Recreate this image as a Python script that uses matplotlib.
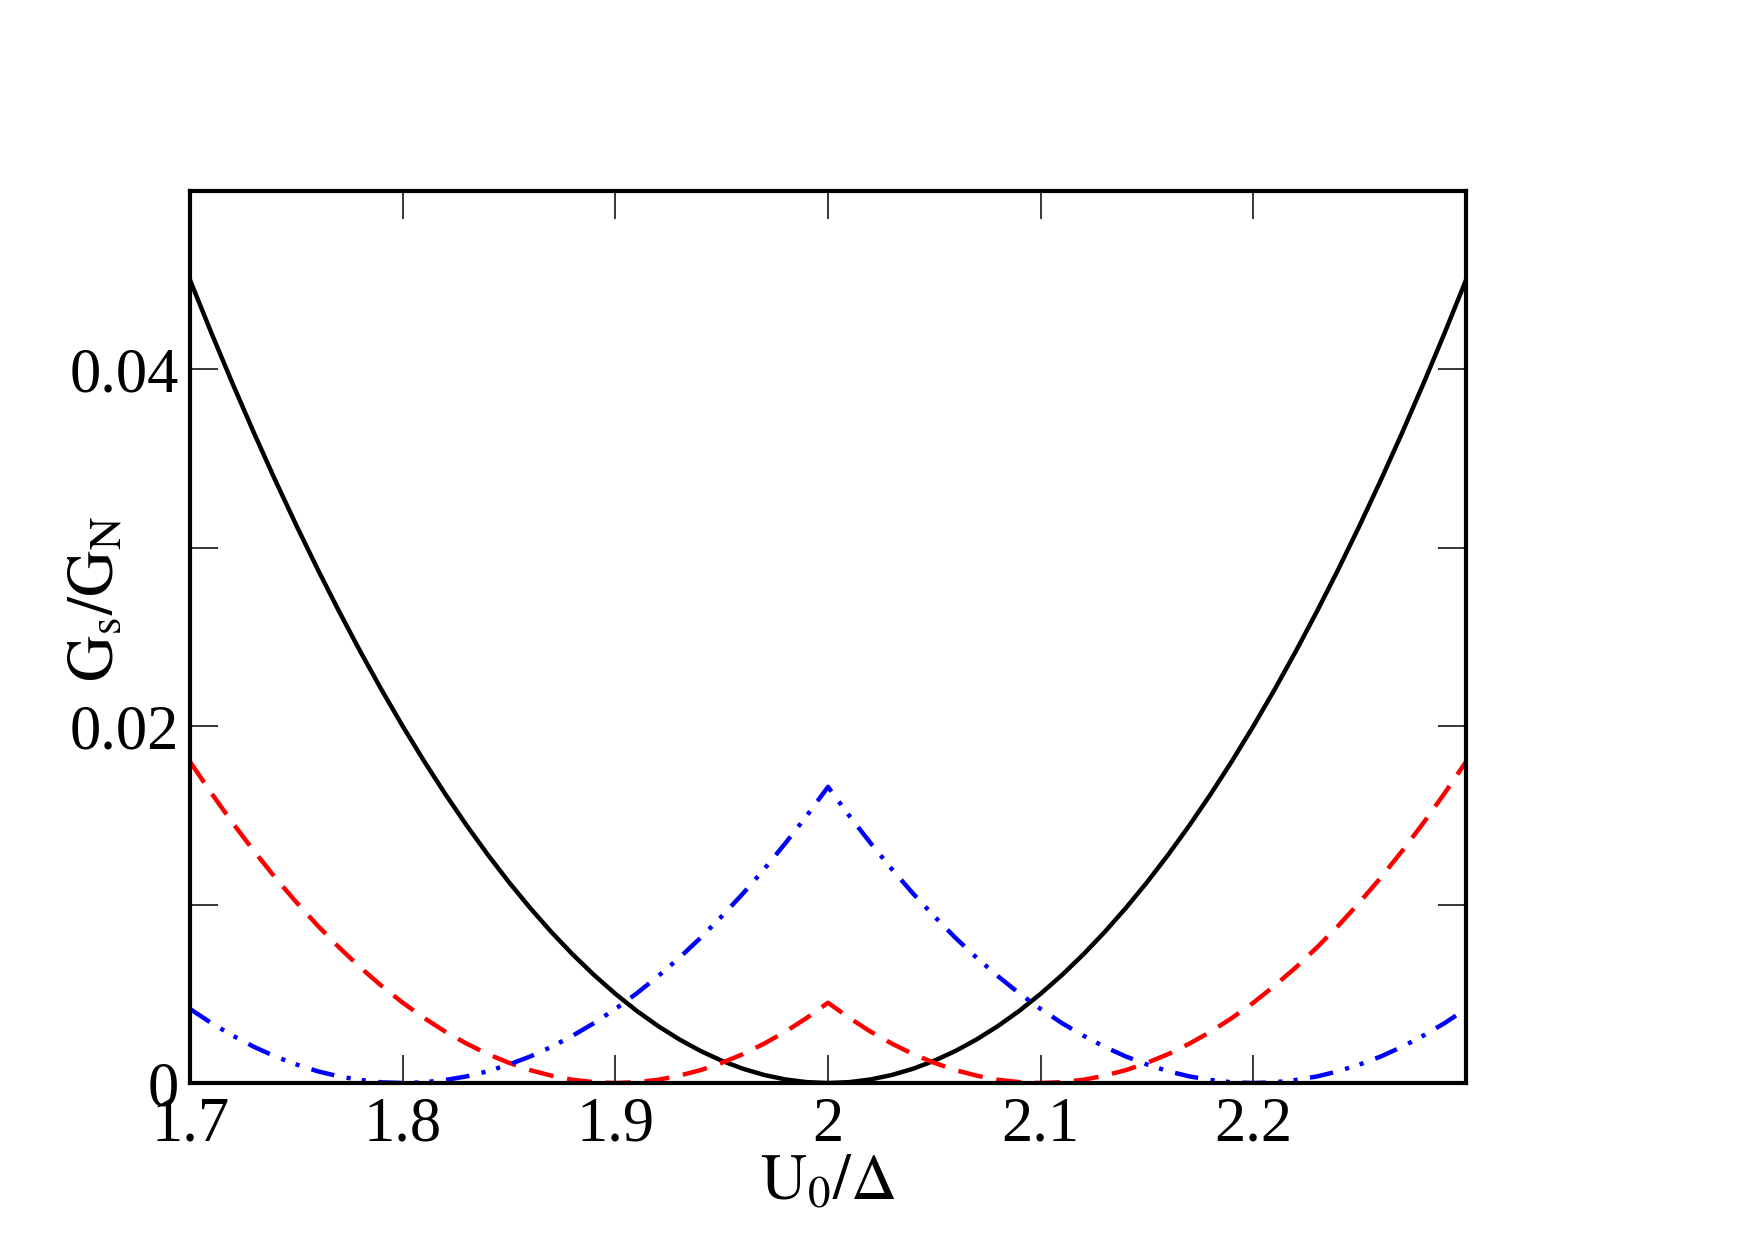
import matplotlib
matplotlib.use('Agg')
import matplotlib.pyplot as plt

# U0/Delta, sampled every 0.01
u0 = [round(1.70 + 0.01 * i, 2) for i in range(61)]

# Gs/GN
g_black = [0.04500, 0.04205, 0.03920, 0.03645, 0.03380, 0.03125, 0.02880, 0.02645, 0.02420, 0.02205,
           0.02000, 0.01805, 0.01620, 0.01445, 0.01280, 0.01125, 0.00980, 0.00845, 0.00720, 0.00605,
           0.00500, 0.00405, 0.00320, 0.00245, 0.00180, 0.00125, 0.00080, 0.00045, 0.00020, 0.00005,
           0.00000,
           0.00005, 0.00020, 0.00045, 0.00080, 0.00125, 0.00180, 0.00245, 0.00320, 0.00405, 0.00500,
           0.00605, 0.00720, 0.00845, 0.00980, 0.01125, 0.01280, 0.01445, 0.01620, 0.01805, 0.02000,
           0.02205, 0.02420, 0.02645, 0.02880, 0.03125, 0.03380, 0.03645, 0.03920, 0.04205, 0.04500]
g_red = [0.01800, 0.01625, 0.01458, 0.01301, 0.01152, 0.01013, 0.00882, 0.00761, 0.00648, 0.00545,
         0.00450, 0.00365, 0.00288, 0.00221, 0.00162, 0.00113, 0.00072, 0.00041, 0.00018, 0.00005,
         0.00000, 0.00005, 0.00018, 0.00041, 0.00072, 0.00113, 0.00162, 0.00221, 0.00288, 0.00365,
         0.00450,
         0.00365, 0.00288, 0.00221, 0.00162, 0.00113, 0.00072, 0.00041, 0.00018, 0.00005, 0.00000,
         0.00005, 0.00018, 0.00041, 0.00072, 0.00113, 0.00162, 0.00221, 0.00288, 0.00365, 0.00450,
         0.00545, 0.00648, 0.00761, 0.00882, 0.01013, 0.01152, 0.01301, 0.01458, 0.01625, 0.01800]
g_blue = [0.00415, 0.00336, 0.00266, 0.00203, 0.00149, 0.00104, 0.00066, 0.00037, 0.00017, 0.00004,
          0.00000, 0.00004, 0.00017, 0.00037, 0.00066, 0.00104, 0.00149, 0.00203, 0.00266, 0.00336,
          0.00415, 0.00502, 0.00598, 0.00701, 0.00813, 0.00934, 0.01062, 0.01199, 0.01345, 0.01498,
          0.01660,
          0.01498, 0.01345, 0.01199, 0.01062, 0.00934, 0.00813, 0.00701, 0.00598, 0.00502, 0.00415,
          0.00336, 0.00266, 0.00203, 0.00149, 0.00104, 0.00066, 0.00037, 0.00017, 0.00004, 0.00000,
          0.00004, 0.00017, 0.00037, 0.00066, 0.00104, 0.00149, 0.00203, 0.00266, 0.00336, 0.00415]

xticks = [1.7, 1.8, 1.9, 2.0, 2.1, 2.2]
xticklabels = ['1.7', '1.8', '1.9', '2', '2.1', '2.2']
yticks = [0, 0.02, 0.04]
yticklabels = ['0', '0.02', '0.04']
yminor = [0.01, 0.03, 0.05]

plt.rcParams['font.family'] = ['Liberation Serif', 'DejaVu Serif']
plt.rcParams['mathtext.fontset'] = 'stix'
plt.rcParams['lines.scale_dashes'] = False

fig = plt.figure(figsize=(17.55, 12.40), dpi=100)
ax = fig.add_axes([0.1083, 0.1266, 0.727, 0.7194])

ax.plot(u0, g_black, color='black', lw=3.2)
ax.plot(u0, g_red, color='red', lw=3.2, linestyle=(0, (18, 10)))
ax.plot(u0, g_blue, color='blue', lw=3.2, linestyle=(0, (17, 9, 3, 8, 3, 9)))

ax.set_xlim(1.7, 2.3)
ax.set_ylim(0, 0.05)
ax.set_xticks(xticks)
ax.set_xticklabels(xticklabels)
ax.set_yticks(yticks)
ax.set_yticklabels(yticklabels)
ax.set_yticks(yminor, minor=True)

ax.tick_params(which='both', direction='in', top=True, right=True,
               length=20, width=1.1, labelsize=45)
ax.tick_params(axis='x', pad=10)
ax.tick_params(axis='y', pad=8)

for sp in ax.spines.values():
    sp.set_linewidth(3.0)

ax.set_xlabel(r'$\mathrm{U_0/\Delta}$', fontsize=46)
ax.set_ylabel(r'$\mathrm{G_s/G_N}$', fontsize=46)
ax.xaxis.set_label_coords(0.5, -0.082)
ax.yaxis.set_label_coords(-0.049, 0.543)

fig.savefig('out.png', dpi=100)
